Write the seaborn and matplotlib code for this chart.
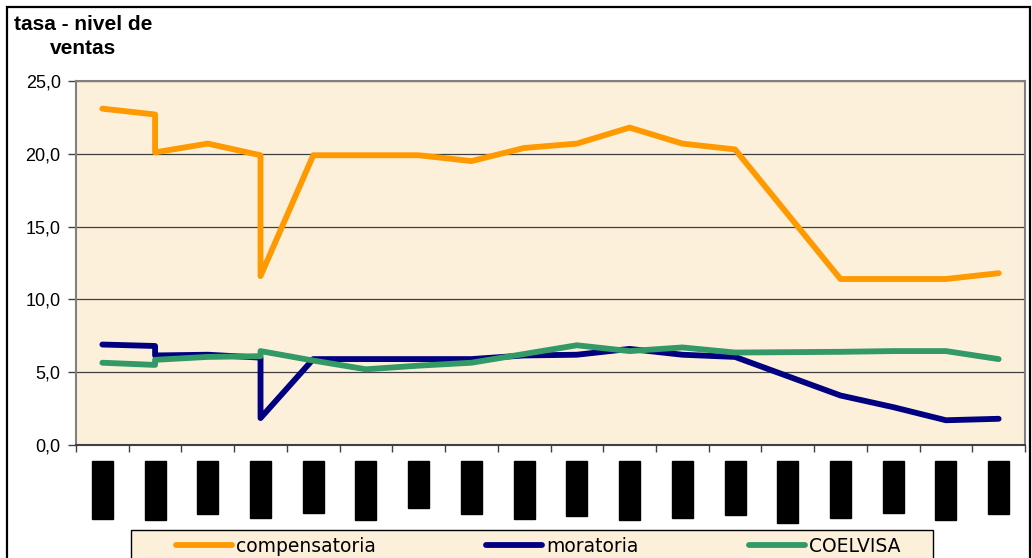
import numpy as np
import pandas as pd
import matplotlib
matplotlib.use("Agg")
import matplotlib.pyplot as plt
import seaborn as sns
from matplotlib.patches import Rectangle
from matplotlib.lines import Line2D

# Periods on the horizontal axis
periodos = ["ene-02", "mar-02", "jun-02", "sep-02", "dic-02", "mar-03",
            "jul-03", "oct-03", "ene-04", "abr-04", "ago-04", "nov-04",
            "feb-05", "may-05", "sep-05", "dic-05", "mar-06", "jun-06"]

# Position of each reading on the period axis (periods 1 and 3 carry two readings)
posicion = [0, 1, 1, 2, 3, 3, 4, 5, 6, 7, 8, 9, 10, 11, 12, 14, 15, 16, 17]

compensatoria = [23.1, 22.7, 20.1, 20.7, 19.9, 11.6, 19.9, 19.9, 19.9, 19.5,
                 20.4, 20.7, 21.8, 20.7, 20.3, 11.4, 11.4, 11.4, 11.8]
moratoria = [6.9, 6.8, 6.15, 6.2, 6.0, 1.85, 5.9, 5.9, 5.9, 5.9,
             6.15, 6.2, 6.6, 6.2, 6.05, 3.4, 2.6, 1.7, 1.8]
coelvisa = [5.65, 5.5, 5.85, 6.05, 6.1, 6.45, 5.8, 5.2, 5.45, 5.65,
            6.25, 6.85, 6.45, 6.7, 6.35, 6.4, 6.45, 6.45, 5.9]

series = ["compensatoria", "moratoria", "COELVISA"]
colores = {"compensatoria": "#FF9900", "moratoria": "#000080", "COELVISA": "#339966"}
y_ticks = [0, 5, 10, 15, 20, 25]

frames = []
for nombre, valores in zip(series, [compensatoria, moratoria, coelvisa]):
    frames.append(pd.DataFrame({"pos": posicion, "valor": valores, "serie": nombre}))
df = pd.concat(frames, ignore_index=True)

sns.set_style("white")
plt.rcParams["font.family"] = ["Liberation Sans", "DejaVu Sans"]
plt.rcParams["text.color"] = "black"
plt.rcParams["xtick.labelcolor"] = "black"
plt.rcParams["ytick.labelcolor"] = "black"

W, H = 1032, 558
fig = plt.figure(figsize=(W / 100, H / 100), dpi=100)
fig.patch.set_facecolor("white")

ax = fig.add_axes([76 / W, 1 - 445 / H, (1025 - 76) / W, (445 - 81) / H])
ax.set_facecolor("#FCF0DA")

sns.lineplot(data=df, x="pos", y="valor", hue="serie", hue_order=series,
             palette=colores, sort=False, estimator=None, linewidth=4.2,
             solid_capstyle="round", solid_joinstyle="round", legend=False, ax=ax)

ax.set_xlim(-0.5, len(periodos) - 0.5)
ax.set_ylim(0, 25)
ax.set_xlabel("")
ax.set_ylabel("")

# y axis
ax.set_yticks(y_ticks)
ax.set_yticklabels([f"{v:.1f}".replace(".", ",") for v in y_ticks], fontsize=13)
ax.yaxis.grid(True, color="#404040", linewidth=0.9)
ax.xaxis.grid(False)
ax.tick_params(axis="y", direction="out", length=6, width=1, color="#404040",
               pad=5, left=True)

# x axis: marks between periods, labels centred on periods
ax.set_xticks(np.arange(-0.5, len(periodos), 1.0))
ax.set_xticklabels([])
ax.tick_params(axis="x", which="major", direction="out", length=5, width=1,
               color="#404040", bottom=True)
ax.set_xticks(np.arange(len(periodos)), minor=True)
ax.set_xticklabels(periodos, minor=True, rotation=90, fontsize=12, color="black")
ax.tick_params(axis="x", which="minor", length=0, pad=14)
for t in ax.get_xticklabels(minor=True):
    t.set_bbox(dict(boxstyle="square,pad=0.18", facecolor="black", edgecolor="black"))

for side in ["left", "top", "right"]:
    ax.spines[side].set_color("#808080")
    ax.spines[side].set_linewidth(1.5)
ax.spines["bottom"].set_color("#404040")
ax.spines["bottom"].set_linewidth(1.5)

# axis title
fig.text(83 / W, 1 - 15 / H, "tasa - nivel de\nventas", ha="center", va="top",
         fontsize=15, fontweight="bold", linespacing=1.3)

# outer chart frame
fig.patches.append(Rectangle((7 / W, -0.05), (1030 - 7) / W, 1.05 - 7 / H,
                             transform=fig.transFigure, fill=False,
                             edgecolor="black", linewidth=1.6))

# legend box
fig.patches.append(Rectangle((131 / W, -0.05), (933 - 131) / W, 0.05 + 1 - 530 / H,
                             transform=fig.transFigure, facecolor="#FCF0DA",
                             edgecolor="black", linewidth=1.0))
handles = [Line2D([], [], color=colores[s], linewidth=4.2, solid_capstyle="round")
           for s in series]
fig.legend(handles, series, loc="upper left",
           bbox_to_anchor=(176 / W, 1 - 562 / H, (900 - 176) / W, 25 / H),
           bbox_transform=fig.transFigure, mode="expand", ncol=3, frameon=False,
           borderpad=0, borderaxespad=0, handlelength=3.0, handletextpad=0.2,
           prop={"family": "DejaVu Sans", "size": 13.5})

fig.savefig("out.png", dpi=100)
